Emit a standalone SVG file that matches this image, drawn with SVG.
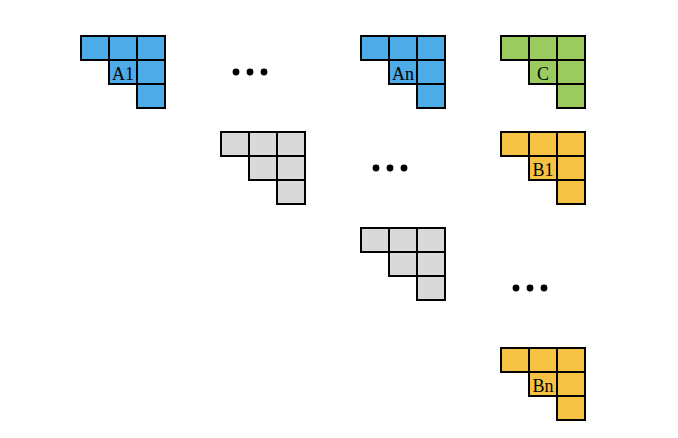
<svg xmlns="http://www.w3.org/2000/svg" width="678" height="438" viewBox="0 0 678 438">
<defs>
<style>
.c{stroke:#000;stroke-width:2}
.blue{fill:#4DABE8}
.green{fill:#9BCB5E}
.yellow{fill:#F5C244}
.gray{fill:#D9D9D9}
.t{font-family:"Liberation Serif","Times New Roman",serif;font-size:18px;fill:#000;text-anchor:middle}
.d{fill:#000}
</style>
<g id="tri">
<rect class="c" x="0" y="0" width="28" height="24"/>
<rect class="c" x="28" y="0" width="28" height="24"/>
<rect class="c" x="56" y="0" width="28" height="24"/>
<rect class="c" x="28" y="24" width="28" height="24"/>
<rect class="c" x="56" y="24" width="28" height="24"/>
<rect class="c" x="56" y="48" width="28" height="24"/>
</g>
</defs>
<rect width="678" height="438" fill="#fff"/>
<g id="A1"><use href="#tri" class="blue" x="81" y="36"/><text class="t" x="123" y="79.5">A1</text></g>
<g id="An"><use href="#tri" class="blue" x="361" y="36"/><text class="t" x="403" y="79.5">An</text></g>
<g id="C"><use href="#tri" class="green" x="501" y="36"/><text class="t" x="543" y="79.5">C</text></g>
<g id="G1"><use href="#tri" class="gray" x="221" y="132"/></g>
<g id="B1"><use href="#tri" class="yellow" x="501" y="132"/><text class="t" x="543" y="175.5">B1</text></g>
<g id="G2"><use href="#tri" class="gray" x="361" y="228"/></g>
<g id="Bn"><use href="#tri" class="yellow" x="501" y="348"/><text class="t" x="543" y="391.5">Bn</text></g>
<g id="dots1"><circle class="d" cx="236" cy="72" r="3.4"/><circle class="d" cx="250" cy="72" r="3.4"/><circle class="d" cx="264" cy="72" r="3.4"/></g>
<g id="dots2"><circle class="d" cx="376" cy="168" r="3.4"/><circle class="d" cx="390" cy="168" r="3.4"/><circle class="d" cx="404" cy="168" r="3.4"/></g>
<g id="dots3"><circle class="d" cx="516" cy="288" r="3.4"/><circle class="d" cx="530" cy="288" r="3.4"/><circle class="d" cx="544" cy="288" r="3.4"/></g>
<g id="connectors"/>
</svg>
